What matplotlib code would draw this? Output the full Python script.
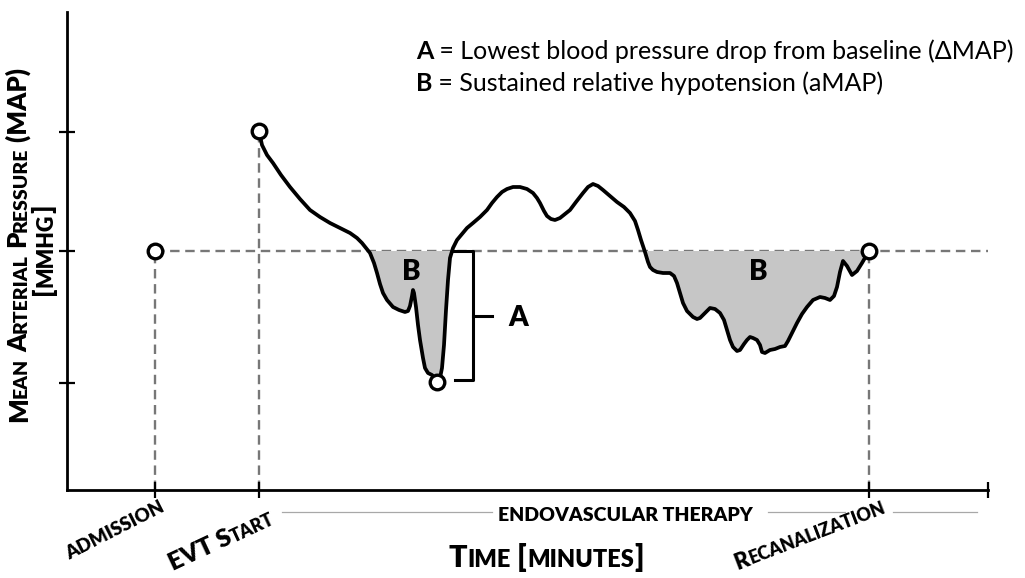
import numpy as np
import matplotlib
matplotlib.use("Agg")
import matplotlib.pyplot as plt
from matplotlib.transforms import IdentityTransform, blended_transform_factory

# ---------------- data (schematic units: time ~ minutes, MAP ~ mmHg) ----------------
curve_time = [192, 195, 200, 206, 214, 223, 233, 243, 253, 263, 273, 283, 290, 295, 299,
              303, 307, 310, 313, 316, 320, 326, 332, 338, 341, 343, 345, 346, 347, 349,
              351, 353, 356, 358, 361, 365, 368, 370, 373, 375, 377, 379, 381, 383, 386,
              390, 395, 400, 406, 413, 420, 425, 430, 435, 440, 446, 453, 460, 466, 470,
              473, 477, 480, 484, 488, 493, 498, 503, 509, 516, 521, 526, 531, 536, 543,
              550, 557, 563, 568, 571, 574, 578, 581, 583, 586, 590, 596, 603, 607, 610,
              613, 616, 620, 626, 630, 633, 638, 643, 648, 653, 657, 660, 663, 666, 670,
              673, 677, 680, 683, 686, 690, 693, 695, 698, 703, 708, 713, 718, 721, 725,
              730, 735, 740, 746, 753, 758, 763, 767, 770, 773, 776, 780, 785, 790, 795,
              802]
curve_map = [359, 345, 335, 327, 315, 303, 291, 280, 273, 267, 262, 257, 252, 247, 242,
             237, 227, 217, 206, 197, 190, 183, 180, 178, 179, 184, 194, 200, 197, 183,
             165, 150, 132, 122, 117, 115, 112, 108, 112, 122, 145, 180, 210, 232, 242,
             250, 256, 262, 267, 273, 280, 287, 293, 298, 301, 303, 303, 301, 297, 292,
             287, 279, 274, 271, 270, 272, 276, 280, 288, 297, 303, 306, 304, 300, 294,
             288, 283, 277, 269, 260, 250, 238, 228, 223, 220, 218, 217, 217, 214, 207,
             197, 187, 179, 173, 171, 172, 177, 182, 181, 177, 170, 160, 150, 143, 139,
             140, 146, 150, 153, 152, 150, 145, 138, 137, 140, 141, 143, 144, 149, 157,
             167, 176, 183, 190, 193, 192, 190, 194, 203, 218, 229, 224, 215, 219, 227,
             239]
assert len(curve_time) == len(curve_map)
baseline_map = 239
baseline_start = 88

event_names = ["admission", "EVT Start", "Recanalization"]
event_time = [88, 192, 802]
event_map = [239, 359, 239]
min_time, min_map = 370, 108

x_ticks = [88, 192, 802, 921]
y_ticks = [107, 239, 358]

bracket_time = 406
bracket_top, bracket_bottom = 239, 110

legend_lines = [("A", " = Lowest blood pressure drop from baseline (\u0394MAP)"),
                ("B", " = Sustained relative hypotension (aMAP)")]

# ---------------- figure ----------------
W, H = 1025, 578
fig = plt.figure(figsize=(W / 100, H / 100), dpi=100)
ax = fig.add_axes([67 / W, 88 / H, 921 / W, 478 / H])
ax.set_xlim(0, 921)
ax.set_ylim(0, 478)
for s in ["top", "right"]:
    ax.spines[s].set_visible(False)
for s in ["left", "bottom"]:
    ax.spines[s].set_linewidth(2.0)
ax.set_xticks(x_ticks)
ax.set_yticks(y_ticks)
ax.set_xticklabels([])
ax.set_yticklabels([])
ax.tick_params(direction="inout", length=11.5, width=1.6, color="black")

gray = "#777777"
dash = (0, (4, 2.4))
ax.plot([baseline_start, 921], [baseline_map, baseline_map], color=gray, lw=1.7, ls=dash, zorder=1)
for t, m in zip(event_time, event_map):
    ax.plot([t, t], [0, m], color=gray, lw=1.7, ls=dash, zorder=1)

ct = np.array(curve_time, float)
cm = np.array(curve_map, float)
ax.fill_between(ct, cm, baseline_map, where=cm <= baseline_map, interpolate=True,
                color="#c6c6c6", lw=0, zorder=2)
ax.plot(ct, cm, color="black", lw=2.7, solid_joinstyle="round", solid_capstyle="round", zorder=3)

ax.plot(event_time + [min_time], event_map + [min_map], "o", ms=10.5, mfc="white",
        mec="black", mew=2.4, zorder=5, clip_on=False)

# bracket A
ax.plot([bracket_time - 20, bracket_time, bracket_time, bracket_time - 18],
        [bracket_top, bracket_top, bracket_bottom, bracket_bottom], color="black", lw=2.2, zorder=4)
mid = (bracket_top + bracket_bottom) / 2
ax.plot([bracket_time, bracket_time + 19], [mid, mid], color="black", lw=2.2, zorder=4)

lbl = dict(family=["Lato", "DejaVu Sans"], weight="heavy", fontsize=20)
ax.text(411 - 67, 490 - 272, "B", ha="center", va="center", zorder=6, **lbl)
ax.text(518 - 67, 490 - 318, "A", ha="center", va="center", zorder=6, **lbl)
ax.text(758 - 67, 490 - 272, "B", ha="center", va="center", zorder=6, **lbl)

# thin gray lines around "ENDOVASCULAR THERAPY"
tr = blended_transform_factory(ax.transData, ax.transAxes)
yl = -(512 - 490) / 478
for a, b in [(215, 425), (701, 778), (826, 910)]:
    ax.plot([a, b], [yl, yl], color="#a8a8a8", lw=0.9, transform=tr, clip_on=False)

# ---------------- text helpers ----------------
renderer = fig.canvas.get_renderer()


def _w(s, p):
    t = fig.text(0, 0, s, transform=IdentityTransform(), **p)
    w = t.get_window_extent(renderer).width
    t.remove()
    return w


def adv(s, p):
    return _w("|" + s + "|", p) - _w("||", p)


def place_runs(x, y, runs, rotation=0, ha="center"):
    widths = [adv(s, p) for s, p in runs]
    tot = sum(widths)
    th = np.deg2rad(rotation)
    dx, dy = np.cos(th), np.sin(th)
    X, Y = x, H - y
    if ha == "center":
        X, Y = X - tot / 2 * dx, Y - tot / 2 * dy
    pos = 0.0
    for (s, p), w in zip(runs, widths):
        fig.text(X + pos * dx, Y + pos * dy, s, rotation=rotation, rotation_mode="anchor",
                 ha="left", va="baseline", transform=IdentityTransform(), **p)
        pos += w


def sc_runs(text, big, small, weight="heavy"):
    runs = []
    for ch in text:
        sz = small if ch.islower() else big
        c = ch.upper()
        if runs and runs[-1][1] == sz:
            runs[-1][0] += c
        else:
            runs.append([c, sz])
    fam = ["Lato", "DejaVu Sans"]
    return [(s, dict(family=fam, weight=weight, fontsize=sz)) for s, sz in runs]


# y label
place_runs(27, 245, sc_runs("Mean Arterial Pressure (MAP)", 18.5, 14), rotation=90)
place_runs(52, 250, sc_runs("[mmhg]", 19, 15.5), rotation=90)

# x labels
place_runs(546, 567, sc_runs("Time [minutes]", 22, 17))
place_runs(625, 521, sc_runs("endovascular therapy", 14, 14))
place_runs(118, 535, sc_runs(event_names[0], 13.5, 13.5), rotation=27)
place_runs(224, 547, sc_runs(event_names[1], 18, 13), rotation=25)
place_runs(812, 541, sc_runs(event_names[2], 16, 13), rotation=21)

# legend text
reg = dict(family=["Lato", "DejaVu Sans"], weight="normal", fontsize=18)
bold = dict(family=["Lato", "DejaVu Sans"], weight="bold", fontsize=18)
for i, (k, rest) in enumerate(legend_lines):
    place_runs(416, 59 + 32 * i, [(k, bold), (rest, reg)], ha="left")

fig.savefig("out.png", dpi=100)
